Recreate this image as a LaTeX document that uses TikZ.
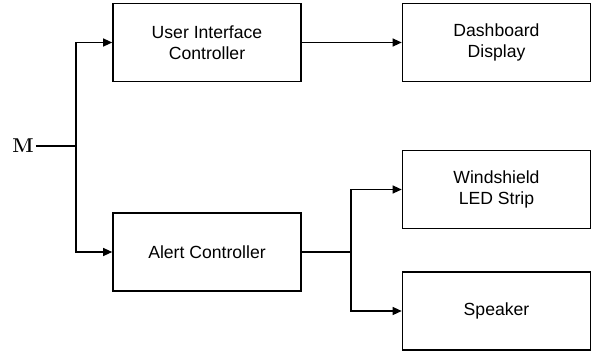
\documentclass[tikz,border=0pt]{standalone}
\usepackage{fontspec}
\setmainfont{Liberation Sans}
\newfontfamily\lmfont{Latin Modern Roman}
\usetikzlibrary{arrows.meta}
\begin{document}
\begin{tikzpicture}[x=1pt,y=1pt,
    block/.style={draw,line width=1.6pt,minimum width=188pt,minimum height=78pt,
      align=center,font=\fontsize{17.6}{20.5}\selectfont},
    wire/.style={line width=1.2pt},
    >={Triangle[length=9pt,width=8pt]}]
    \useasboundingbox (0,0) rectangle (592,-353);
    \node[block] (UI) at (207,-42.5) {User Interface\\Controller};
    \node[block] (DD) at (496.5,-42.5) {Dashboard\\Display};
    \node[block] (WS) at (496.5,-189.5) {Windshield\\LED Strip};
    \node[block] (SP) at (496.5,-311) {Speaker};
    \node[block] (AC) at (207,-252) {Alert Controller};
    \node[inner sep=2pt,font=\lmfont\bfseries\fontsize{20}{20}\selectfont] (M) at (23,-146) {M};
    \coordinate (split) at (76,-146);
    \coordinate (fork) at (351,-252);
    \draw[wire] (M) -- (split);
    \draw[wire,->] (split) |- (UI);
    \draw[wire,->] (split) |- (AC);
    \draw[wire,->] (UI) -- (DD);
    \draw[wire] (AC) -- (fork);
    \draw[wire,->] (fork) |- (WS);
    \draw[wire,->] (fork) |- (SP);
  \end{tikzpicture}
\end{document}
